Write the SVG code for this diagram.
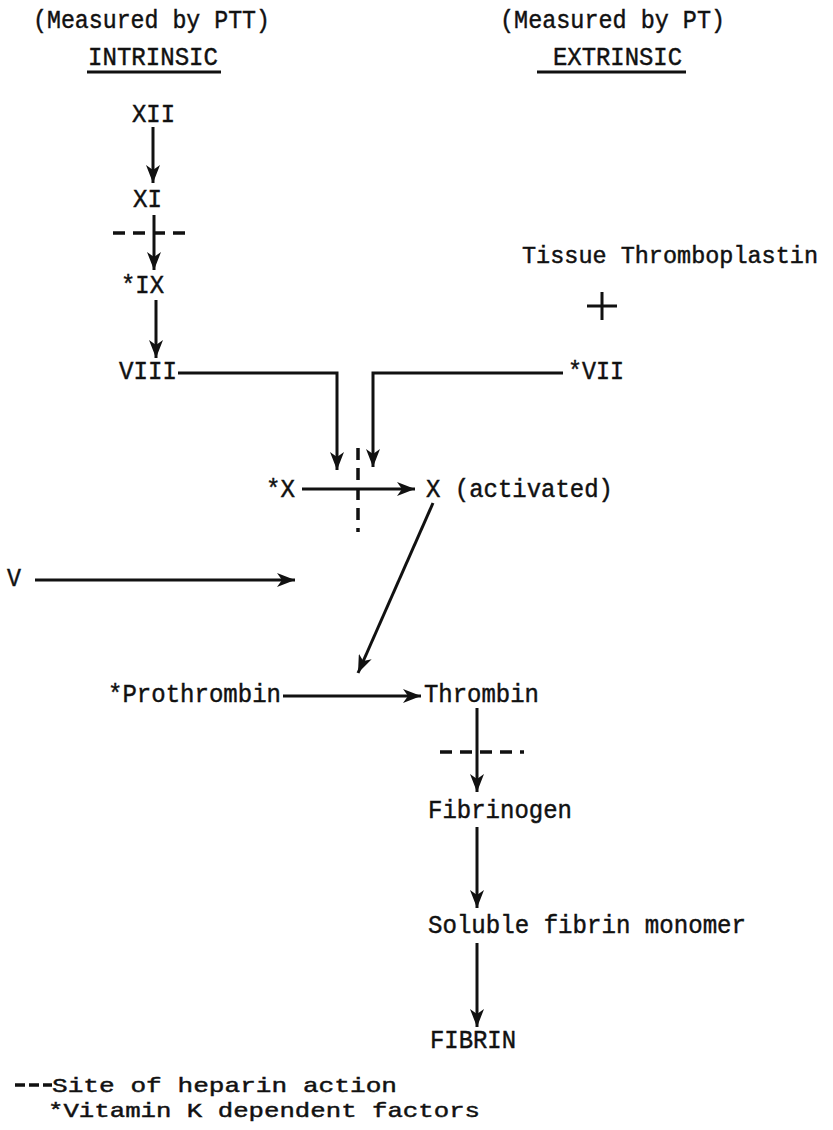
<svg xmlns="http://www.w3.org/2000/svg" width="833" height="1130" viewBox="0 0 833 1130">
<style>
text { font-family: "Liberation Mono", "Courier New", monospace; font-size: 26px; fill: #111; stroke: #111; stroke-width: 0.45; }
text.lg { font-size: 21px; }
text.tt { font-size: 23.5px; }
.ln { stroke: #111; stroke-width: 3; fill: none; }
.ar { marker-end: url(#ah); }
.hep { stroke: #111; stroke-width: 3.5; fill: none; stroke-dasharray: 12 8; }
</style>
<defs>
<marker id="ah" markerUnits="userSpaceOnUse" markerWidth="20" markerHeight="14" refX="18" refY="7" orient="auto" viewBox="0 0 20 14">
<path d="M0,0 L18,7 L0,14 L5,7 z" fill="#111"/>
</marker>
</defs>
<rect width="833" height="1130" fill="#fff"/>
<g id="headers">
<text x="33" y="28" textLength="237" lengthAdjust="spacingAndGlyphs">(Measured by PTT)</text>
<text x="88" y="65" textLength="130" lengthAdjust="spacingAndGlyphs">INTRINSIC</text>
<path class="ln" d="M87,72 H221"/>
<text x="500" y="28" textLength="225" lengthAdjust="spacingAndGlyphs">(Measured by PT)</text>
<text x="553" y="65" textLength="129" lengthAdjust="spacingAndGlyphs">EXTRINSIC</text>
<path class="ln" d="M537,72 H686"/>
</g>
<g id="n-XII"><text x="132" y="122" textLength="43" lengthAdjust="spacingAndGlyphs">XII</text></g>
<g id="n-XI"><text x="133" y="207" textLength="29" lengthAdjust="spacingAndGlyphs">XI</text></g>
<g id="n-IX"><text x="121" y="293" textLength="43" lengthAdjust="spacingAndGlyphs">*IX</text></g>
<g id="n-VIII"><text x="119" y="379" textLength="58" lengthAdjust="spacingAndGlyphs">VIII</text></g>
<g id="n-tissue"><text class="tt" x="522" y="263" textLength="296" lengthAdjust="spacingAndGlyphs">Tissue Thromboplastin</text></g>
<g id="n-plus"><path class="ln" d="M587,306 H617 M602,292 V320"/></g>
<g id="n-VII"><text x="568" y="379" textLength="56" lengthAdjust="spacingAndGlyphs">*VII</text></g>
<g id="n-X"><text x="266" y="497" textLength="29" lengthAdjust="spacingAndGlyphs">*X</text></g>
<g id="n-Xa"><text x="426" y="497" textLength="187" lengthAdjust="spacingAndGlyphs">X (activated)</text></g>
<g id="n-V"><text x="7" y="586" textLength="14" lengthAdjust="spacingAndGlyphs">V</text></g>
<g id="n-prothrombin"><text x="108" y="702" textLength="173" lengthAdjust="spacingAndGlyphs">*Prothrombin</text></g>
<g id="n-thrombin"><text x="424" y="702" textLength="115" lengthAdjust="spacingAndGlyphs">Thrombin</text></g>
<g id="n-fibrinogen"><text x="428" y="818" textLength="144" lengthAdjust="spacingAndGlyphs">Fibrinogen</text></g>
<g id="n-monomer"><text x="428" y="933" textLength="318" lengthAdjust="spacingAndGlyphs">Soluble fibrin monomer</text></g>
<g id="n-fibrin"><text x="430" y="1048" textLength="86" lengthAdjust="spacingAndGlyphs">FIBRIN</text></g>
<g id="connectors">
<path class="ln ar" d="M153,127 V183"/>
<path class="ln ar" d="M154,215 V270"/>
<path class="ln ar" d="M156,300 V358"/>
<path class="ln ar" d="M178,373 H337 V470"/>
<path class="ln ar" d="M563,373 H373 V467"/>
<path class="ln ar" d="M302,489 H415"/>
<path class="ln ar" d="M35,580 H295"/>
<path class="ln ar" d="M433,503 L358,673"/>
<path class="ln ar" d="M283,696 H421"/>
<path class="ln ar" d="M477,708 V792"/>
<path class="ln ar" d="M477,827 V908"/>
<path class="ln ar" d="M477,943 V1027"/>
<path class="hep" d="M113,233 H190"/>
<path class="hep" d="M358,448 V532"/>
<path class="hep" d="M440,752 H524"/>
</g>
<g id="legend">
<path class="hep" d="M15,1085 H52" style="stroke-dasharray:10 4"/>
<text class="lg" x="52" y="1092" textLength="345" lengthAdjust="spacingAndGlyphs">Site of heparin action</text>
<text class="lg" x="48" y="1117" textLength="432" lengthAdjust="spacingAndGlyphs">*Vitamin K dependent factors</text>
</g>
</svg>
